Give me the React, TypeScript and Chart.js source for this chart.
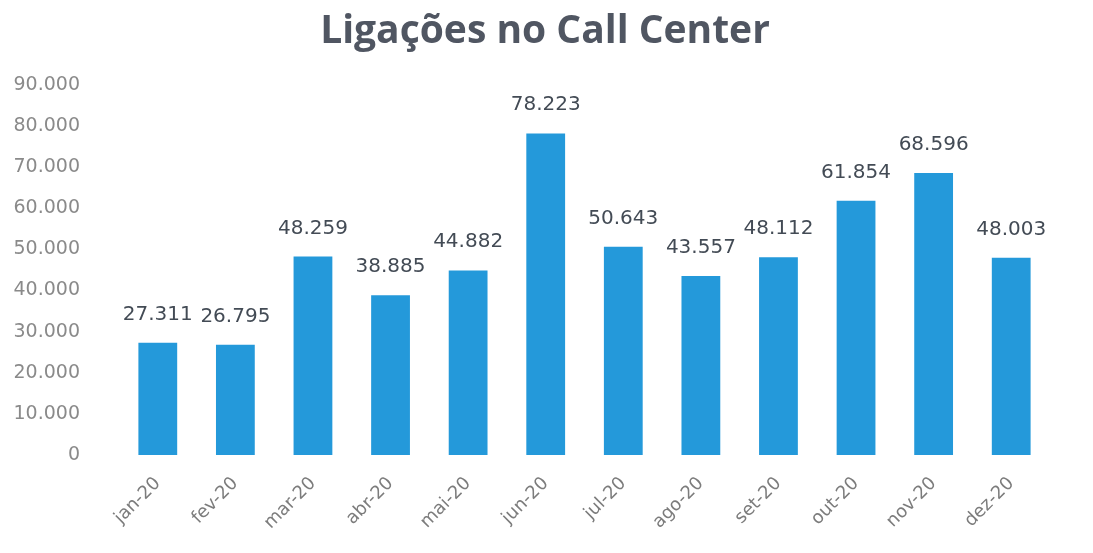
import React, { useEffect, useRef } from "react";
import { Chart, registerables } from "chart.js";

Chart.register(...registerables);

const TITLE = "Ligações no Call Center";
const months = ["jan-20", "fev-20", "mar-20", "abr-20", "mai-20", "jun-20", "jul-20", "ago-20", "set-20", "out-20", "nov-20", "dez-20"];
const calls = [27311, 26795, 48259, 38885, 44882, 78223, 50643, 43557, 48112, 61854, 68596, 48003];
const yMax = 90000;
const yStep = 10000;

const fmt = (v: number) => v.toLocaleString("pt-BR");

const W = 1093;
const H = 553;

const labelPlugin = {
  id: "valueLabels",
  afterDatasetsDraw(chart: any) {
    const ctx = chart.ctx;
    const meta = chart.getDatasetMeta(0);
    ctx.save();
    ctx.font = "20px 'DejaVu Sans'";
    ctx.fillStyle = "#434b55";
    ctx.textAlign = "center";
    ctx.textBaseline = "alphabetic";
    meta.data.forEach((bar: any, i: number) => {
      ctx.fillText(fmt(calls[i]), bar.x, bar.y - 23);
    });
    ctx.restore();
  },
};

const titlePlugin = {
  id: "customTitle",
  afterDraw(chart: any) {
    const ctx = chart.ctx;
    ctx.save();
    ctx.font = "bold 39px 'Open Sans'";
    ctx.fillStyle = "#505662";
    ctx.textAlign = "center";
    ctx.textBaseline = "alphabetic";
    ctx.fillText(TITLE, 545, 43);
    ctx.restore();
  },
};

export default function App() {
  const ref = useRef<HTMLCanvasElement | null>(null);
  useEffect(() => {
    if (!ref.current) return;
    const chart = new Chart(ref.current, {
      type: "bar",
      data: {
        labels: months,
        datasets: [
          {
            data: calls,
            backgroundColor: "#2499DA",
            borderWidth: 0,
            barPercentage: 0.5,
            categoryPercentage: 1,
          },
        ],
      },
      options: {
        animation: false,
        responsive: false,
        layout: { padding: { left: 0, right: 43, top: 85, bottom: 0 } },
        plugins: {
          legend: { display: false },
          title: { display: false },
          tooltip: { enabled: false },
        },
        scales: {
          x: {
            grid: { display: false },
            border: { display: false },
            ticks: {
              color: "#7c7c7c",
              font: { family: "'DejaVu Sans'", size: 18 },
              minRotation: 45,
              maxRotation: 45,
              padding: 10,
            },
            afterFit: (s: any) => {
              s.height = 98;
            },
          },
          y: {
            min: 0,
            max: yMax,
            grid: { display: false },
            border: { display: false },
            ticks: {
              stepSize: yStep,
              color: "#8a8a8a",
              font: { family: "'DejaVu Sans'", size: 19 },
              padding: 31,
              callback: (v: any) => fmt(Number(v)),
            },
            afterFit: (s: any) => {
              s.width = 119;
            },
          },
        },
      },
      plugins: [labelPlugin, titlePlugin],
    });
    return () => chart.destroy();
  }, []);
  return (
    <div style={{ position: "fixed", left: 0, top: 0, width: W, height: H, background: "#fff" }}>
      <canvas ref={ref} width={W} height={H} />
    </div>
  );
}
